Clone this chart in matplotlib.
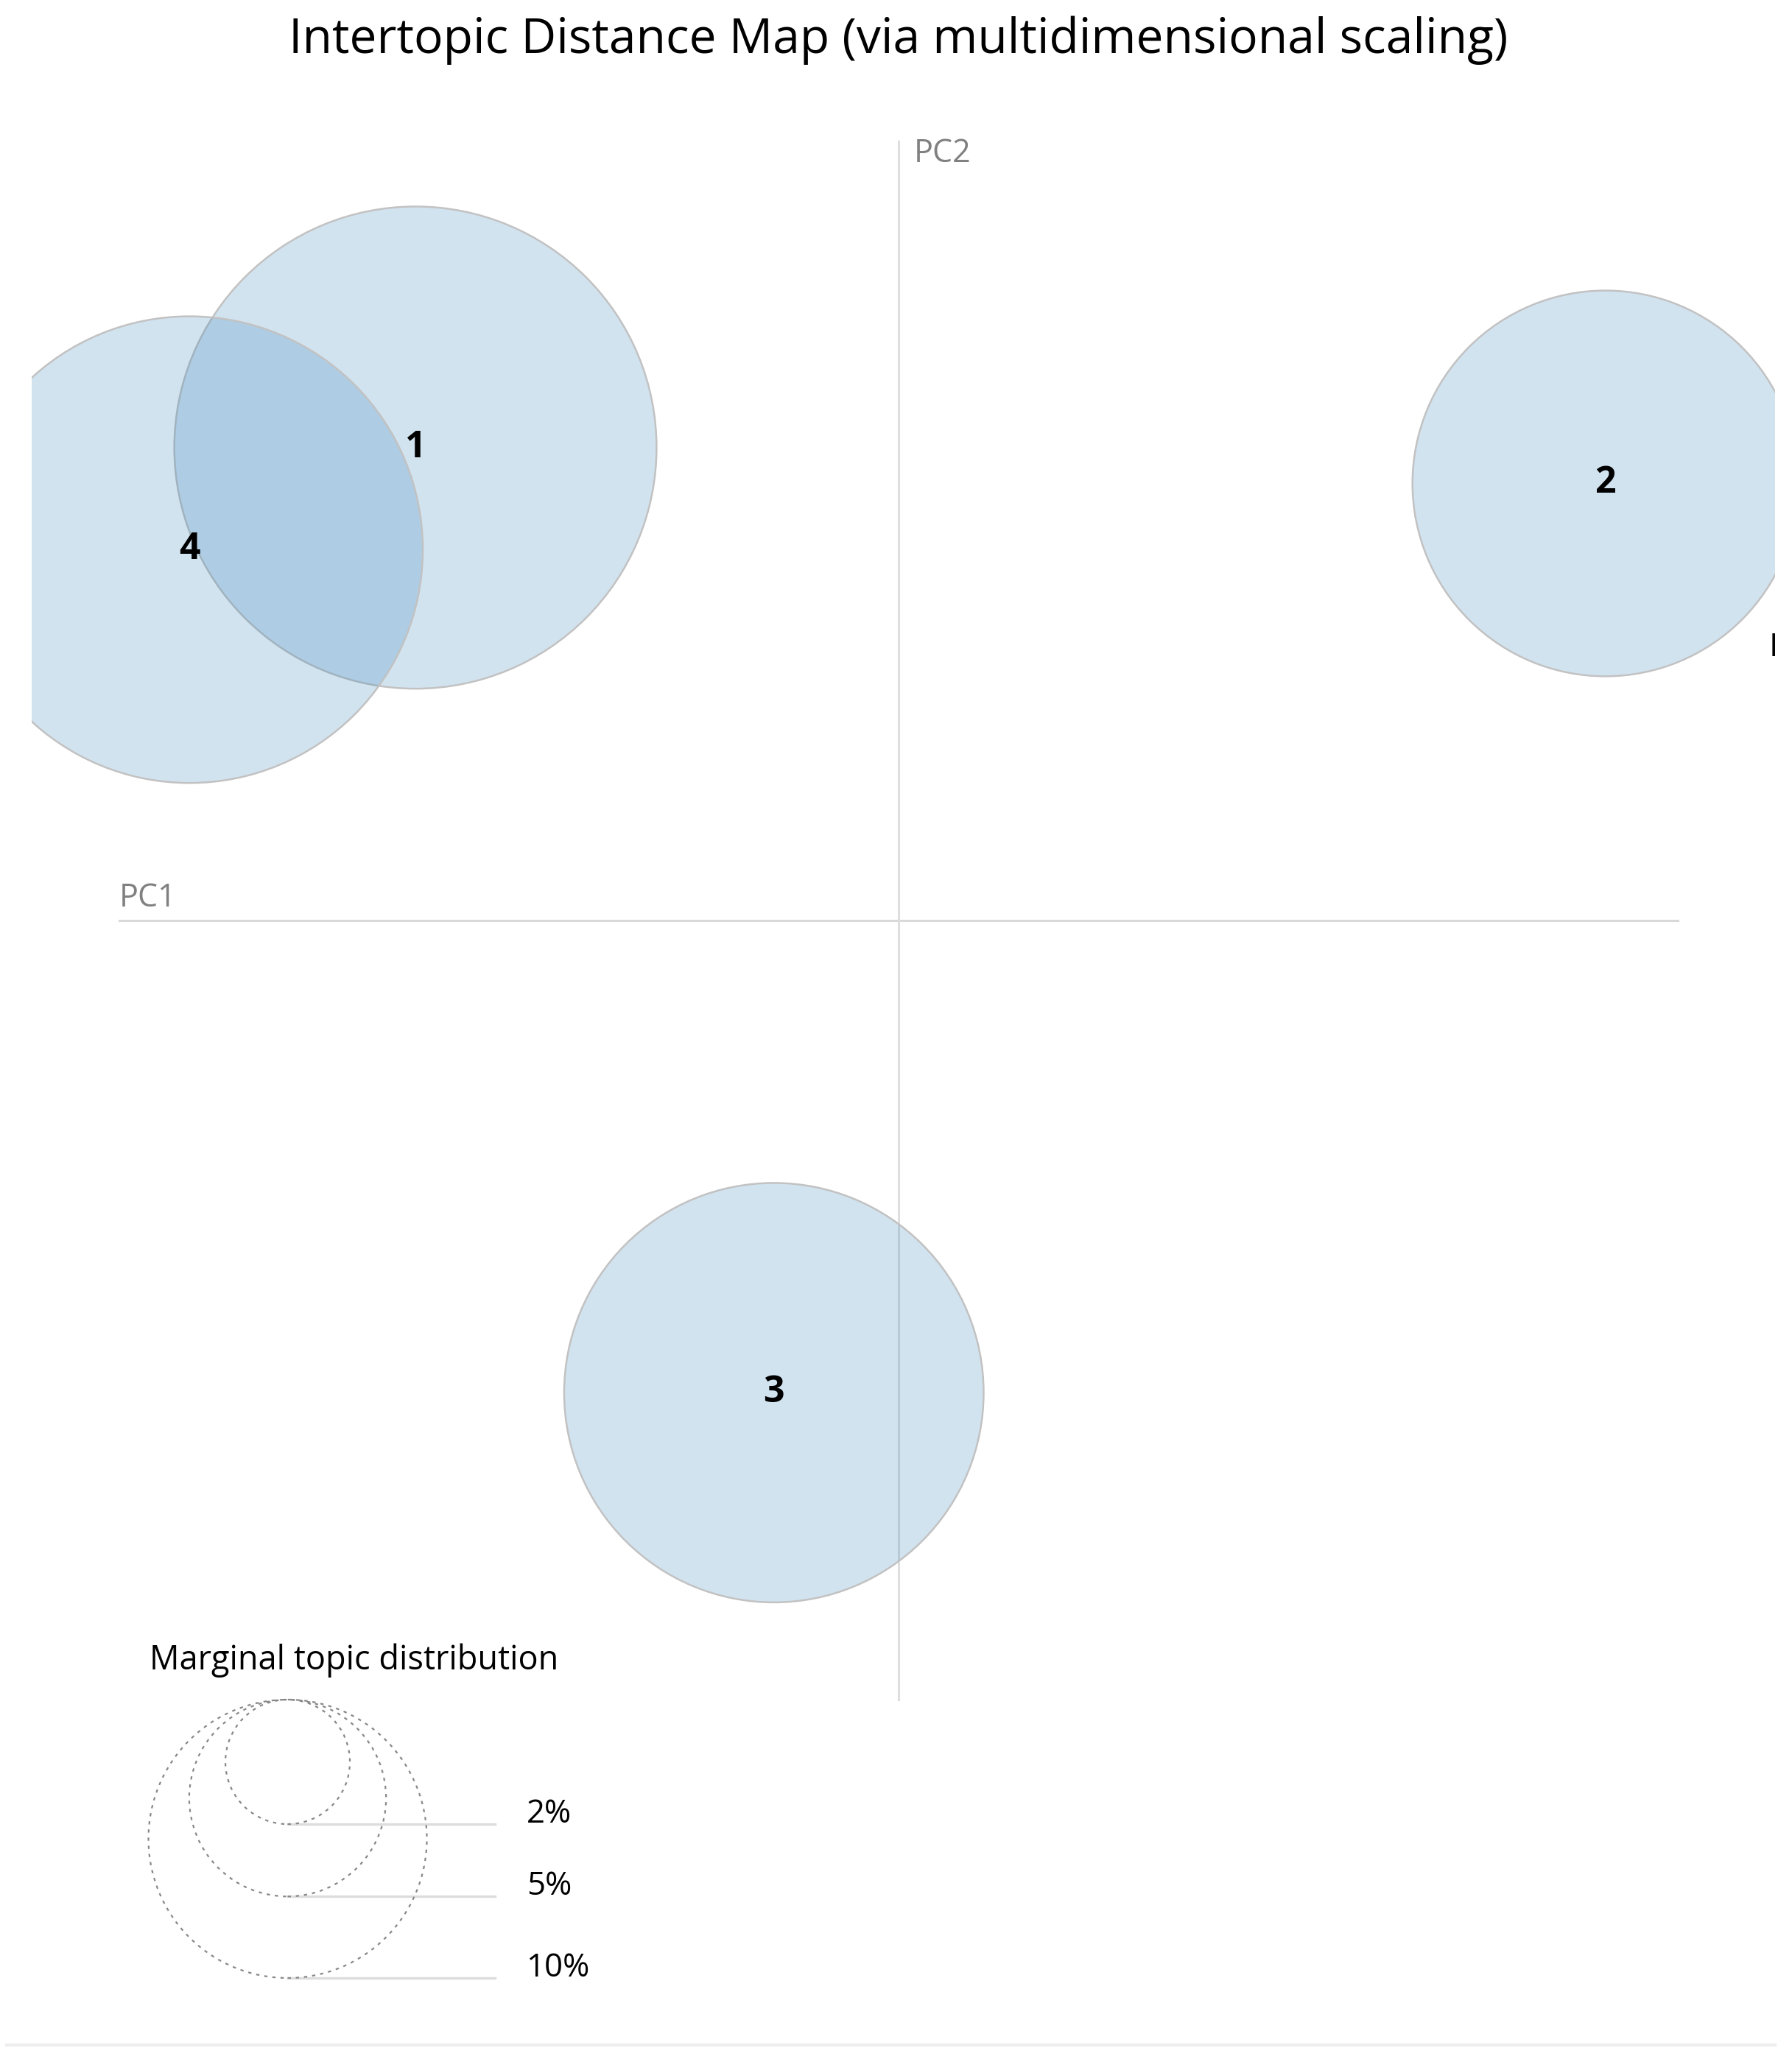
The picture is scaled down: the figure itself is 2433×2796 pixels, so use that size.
import numpy as np
import matplotlib
matplotlib.use("Agg")
import matplotlib.pyplot as plt
from matplotlib.patches import Circle
from matplotlib.lines import Line2D
from matplotlib.colors import to_rgba

plt.rcParams['font.family'] = ['Open Sans', 'DejaVu Sans']

# topic data (PC coordinates, marginal share in %)
topics = ['1', '2', '3', '4']
pc1 = [-0.620, 0.907, -0.160, -0.910]
pc2 = [0.607, 0.561, -0.606, 0.476]
marginal = [30.0, 19.2, 22.7, 28.1]

legend_pcts = [2, 5, 10]
legend_labels = ['2%', '5%', '10%']

W, H = 2433, 2796
fig = plt.figure(figsize=(W / 100, H / 100), dpi=100)

# pixel frame of the map: origin at (1220, 1250) px, 1058 px per PC unit
ox, oy, unit = 1220, 1250, 1058
left_px, right_px, top_px = 43, 2410, 100
ax = fig.add_axes([left_px / W, 0, (right_px - left_px) / W, (H - top_px) / H])
ax.set_xlim((left_px - ox) / unit, (right_px - ox) / unit)
ax.set_ylim((oy - H) / unit, (oy - top_px) / unit)
ax.set_aspect('auto')
ax.axis('off')

# radius (PC units) of a 10% topic
r10 = 189 / unit


def radius(p):
    return r10 * np.sqrt(p / 10.0)


# axes
ax.plot([-1, 1], [0, 0], color='#d9d9d9', lw=2.2, zorder=1)
ax.plot([0, 0], [-1, 1], color='#dedede', lw=2.2, zorder=1)
ax.text(-1, 0.018, 'PC1', color='#808080', fontsize=31, ha='left', va='baseline')
ax.text(0.02, 1.005, 'PC2', color='#808080', fontsize=31, ha='left', va='top')

# topic circles
face = to_rgba('#1f77b4', 0.2)
for t, x, y, p in zip(topics, pc1, pc2, marginal):
    c = Circle((x, y), radius(p), facecolor=face, edgecolor='#c2c2c2',
               lw=1.8, zorder=2)
    ax.add_patch(c)
for t, x, y in zip(topics, pc1, pc2):
    ax.text(x, y, t, fontsize=36, fontweight='bold', color='black',
            ha='center', va='center', zorder=3)

# clipped glyph from the neighbouring panel
ax.text(1.117, 0.35, 'E', fontsize=32, color='black', ha='left', va='center',
        clip_on=True)

# legend: marginal topic distribution
lx, ltop = -0.784, -1.0
line_end, label_x = -0.518, -0.477
ax.text(-0.961, -0.961, 'Marginal topic distribution', fontsize=32.5,
        color='black', ha='left', va='baseline')
for p, lab in zip(legend_pcts, legend_labels):
    r = radius(p)
    ax.add_patch(Circle((lx, ltop - r), r, fill=False, edgecolor='#888888',
                        lw=1.6, ls=(0, (2, 3)), zorder=2))
    ax.plot([lx, line_end], [ltop - 2 * r, ltop - 2 * r], color='#dcdcdc',
            lw=2.4, zorder=1)
    ax.text(label_x, ltop - 2 * r + 0.002, lab, fontsize=31.5, color='black',
            ha='left', va='baseline')

# title and bottom rule
fig.text(1220 / W, 1 - 55 / H, 'Intertopic Distance Map (via multidimensional scaling)',
         fontsize=47.5, ha='center', va='center')
fig.add_artist(Line2D([9 / W, 2410 / W], [1 - 2777 / H, 1 - 2777 / H],
                      color='#eeeeee', lw=3, transform=fig.transFigure))

fig.savefig('out.png', dpi=100, facecolor='white')
